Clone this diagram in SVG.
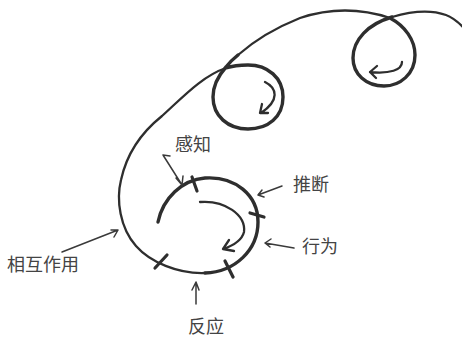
<svg xmlns="http://www.w3.org/2000/svg" width="462" height="339" viewBox="0 0 462 339">
<defs>
<style>
.curve{fill:none;stroke:#2e2e2e;stroke-linecap:round;stroke-linejoin:round}
.mid{stroke-width:2.3}
.thick{stroke-width:3.4}
.tick{fill:none;stroke:#2e2e2e;stroke-width:3.2;stroke-linecap:round}
.ptr{fill:none;stroke:#3a3a3a;stroke-width:1.5;stroke-linecap:round;stroke-linejoin:round}
.lbl{font-family:"Noto Sans CJK SC","Noto Sans CJK JP",sans-serif;font-size:18px;fill:#444}
</style>
</defs>
<rect width="462" height="339" fill="#fff"/>
<g id="connectors">
<!-- main spiral -->
<path class="curve thick" d="M158,222 C163,198 182,180 205,178 C235,176 258,195 258,222 C258,250 235,272 205,273"/>
<path class="curve mid" d="M205,273 C178,274 150,262 136,246 C120,228 116,200 121,180 C127,152 142,132 162,116 C182,98 202,76 226,68"/>
<!-- loop 1 -->
<path class="curve thick" d="M226,68 C232,66 240,65 248,65 C268,65 283,78 283,97 C283,117 268,129 248,129 C228,129 213,116 213,97 C213,86 218,76 226,67 C229,63 233,59 238,55"/>
<path class="curve mid" d="M238,55 C255,40 275,28 300,18 C330,8 360,8 390,18"/>
<!-- loop 2 -->
<path class="curve thick" d="M390,18 C405,26 415,40 415,55 C415,74 400,86 384,86 C366,86 353,74 353,58 C353,40 368,24 392,17"/>
<path class="curve mid" d="M392,17 C412,11 432,10 446,15 C454,18 460,24 463,27"/>
<!-- ticks -->
<path class="tick" d="M192,177 L197,191"/>
<path class="tick" d="M250,213 L264,217"/>
<path class="tick" d="M225,261 L233,277"/>
<path class="tick" d="M155,268 L167,255"/>
<!-- inner arrows -->
<path class="curve mid" d="M265,82 C277,88 280,100 261,113 M262,104 L260,113 L268,113"/>
<path class="curve mid" d="M402,62 C402,70 390,74 370,72 M377,66 L370,72 L376,78"/>
<path class="curve mid" d="M200,202 C225,200 246,215 244,232 C242,240 235,245 223,249 M229,240 L223,249 L234,251"/>
<!-- label pointers -->
<path class="ptr" d="M163,155 L182,185 M163,155 L170,156 M176,178 L182,185 L183,176"/>
<path class="ptr" d="M282,186 L258,195 M262,190 L258,195 L264,197"/>
<path class="ptr" d="M294,248 L265,243 M271,239 L265,243 L270,247"/>
<path class="ptr" d="M196,304 L196,282 M192,290 L196,282 L199,290"/>
<path class="ptr" d="M62,252 L118,230 M111,230 L118,230 L114,237"/>
</g>
<g id="node-perceive"><text class="lbl" x="175" y="151">感知</text></g>
<g id="node-infer"><text class="lbl" x="293" y="191">推断</text></g>
<g id="node-act"><text class="lbl" x="302" y="253">行为</text></g>
<g id="node-react"><text class="lbl" x="188" y="333">反应</text></g>
<g id="node-interact"><text class="lbl" x="7" y="271">相互作用</text></g>
</svg>
